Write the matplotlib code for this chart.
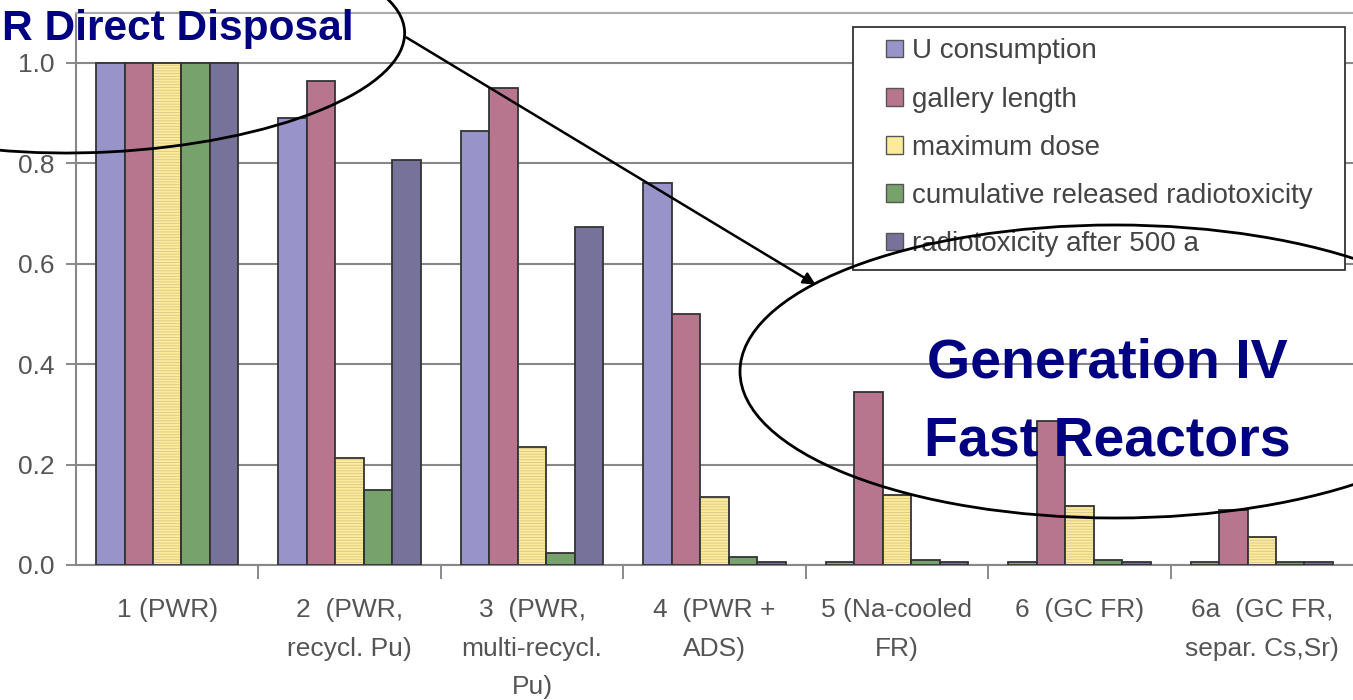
import matplotlib
matplotlib.use("Agg")
import matplotlib.pyplot as plt
import numpy as np
from matplotlib.patches import Ellipse, FancyArrowPatch, Rectangle

categories = ["1 (PWR)", "2  (PWR,\nrecycl. Pu)", "3  (PWR,\nmulti-recycl.\nPu)",
              "4  (PWR +\nADS)", "5 (Na-cooled\nFR)", "6  (GC FR)", "6a  (GC FR,\nsepar. Cs,Sr)"]
series_names = ["U consumption", "gallery length", "maximum dose",
                "cumulative released radiotoxicity", "radiotoxicity after 500 a"]
u_consumption = [1.0, 0.89, 0.865, 0.76, 0.005, 0.005, 0.005]
gallery_length = [1.0, 0.965, 0.95, 0.50, 0.345, 0.287, 0.11]
maximum_dose = [1.0, 0.213, 0.235, 0.135, 0.14, 0.118, 0.056]
cum_released = [1.0, 0.15, 0.024, 0.015, 0.01, 0.01, 0.005]
radiotox_500a = [1.0, 0.807, 0.673, 0.005, 0.005, 0.005, 0.005]
yticks = [0.0, 0.2, 0.4, 0.6, 0.8, 1.0]

colors = ["#9894CA", "#B7768E", "#FCEB9A", "#78A26C", "#77729A"]

plt.rcParams['font.family'] = ["Liberation Sans", "DejaVu Sans"]
plt.rcParams['hatch.linewidth'] = 0.6

fig = plt.figure(figsize=(13.53, 7.0), dpi=100)
ax = fig.add_axes([76/1353, 1 - 565/700, 1 - 76/1353, (565 - 12.8)/700])

data = [u_consumption, gallery_length, maximum_dose, cum_released, radiotox_500a]
x = np.arange(len(categories))
bw = 0.156
for i, vals in enumerate(data):
    pos = x + (i - 2) * bw
    if i == 2:
        ax.bar(pos, vals, bw, color=colors[i], edgecolor="#D9C78A", linewidth=0,
               hatch="------", zorder=3)
        ax.bar(pos, vals, bw, fill=False, edgecolor="#333333", linewidth=1.3, zorder=4)
    else:
        ax.bar(pos, vals, bw, color=colors[i], edgecolor="#333333", linewidth=1.3, zorder=3)

ax.set_xlim(-0.5, len(categories) - 0.5)
ax.set_ylim(0, 1.1)
ax.set_yticks(yticks)
ax.set_yticklabels([f"{v:.1f}" for v in yticks], fontsize=19, color="#555555")
ax.set_xticks(np.arange(len(categories) - 1) + 0.5)
ax.set_xticklabels([])
ax.set_xticks(x, minor=True)
ax.set_xticklabels(categories, minor=True, fontsize=19, color="#555555", linespacing=1.75)
ax.tick_params(axis='x', which='minor', length=0, pad=24)
ax.tick_params(axis='x', which='major', length=10, width=1.2, color="#777777")
ax.tick_params(axis='y', length=7.5, width=1.2, color="#777777", pad=8)
ax.grid(axis='y', color="#888888", linewidth=1.5, zorder=0)
for s in ["left", "bottom"]:
    ax.spines[s].set_color("#888888")
    ax.spines[s].set_linewidth(1.5)
ax.spines["top"].set_color("#aaaaaa")
ax.spines["top"].set_linewidth(1.5)
ax.spines["right"].set_visible(False)

# annotations placed in pixel space (inches = px/100)
tr = fig.dpi_scale_trans
def P(px, py):
    return (px / 100, (700 - py) / 100)

# legend box drawn as a figure rectangle, entries as a frameless legend
fig.patches.append(Rectangle(P(853, 270), (1345 - 853)/100, (270 - 27)/100, transform=tr,
                             facecolor="white", edgecolor="#333333", linewidth=1.3, zorder=4))
handles = [plt.Rectangle((0, 0), 1, 1, facecolor=c, edgecolor="#555555", linewidth=1) for c in colors]
leg = fig.legend(handles, series_names, loc="upper left", bbox_to_anchor=(878/1353, 1 - 30/700),
                 fontsize=20, frameon=False,
                 handlelength=0.61, handleheight=0.61, handletextpad=0.3, labelspacing=0.8,
                 borderpad=0.3, borderaxespad=0)
leg.set_zorder(5)
for t in leg.get_texts():
    t.set_color("#444444")

fig.patches.append(Ellipse(P(105, 47), 600/100, 210/100, angle=3, transform=tr,
                           fill=False, edgecolor="black", linewidth=2, zorder=10))
fig.patches.append(Ellipse(P(1115, 371.5), 750/100, 293/100, angle=0, transform=tr,
                           fill=False, edgecolor="black", linewidth=2, zorder=10))
fig.text(2/1353, 1 - 40/700, "R Direct Disposal", ha="left", va="baseline", fontsize=30.5,
         fontweight="bold", color="#000080", zorder=11)
fig.text(1107/1353, 1 - 378/700, "Generation IV", ha="center", va="baseline", fontsize=40,
         fontweight="bold", color="#000080", zorder=11)
fig.text(1107/1353, 1 - 455/700, "Fast Reactors", ha="center", va="baseline", fontsize=40,
         fontweight="bold", color="#000080", zorder=11)
fig.add_artist(FancyArrowPatch(P(404, 36), P(818, 286), transform=tr,
               arrowstyle="-|>", mutation_scale=18, color="black", linewidth=1.8, zorder=10))

fig.savefig("out.png", dpi=100)
